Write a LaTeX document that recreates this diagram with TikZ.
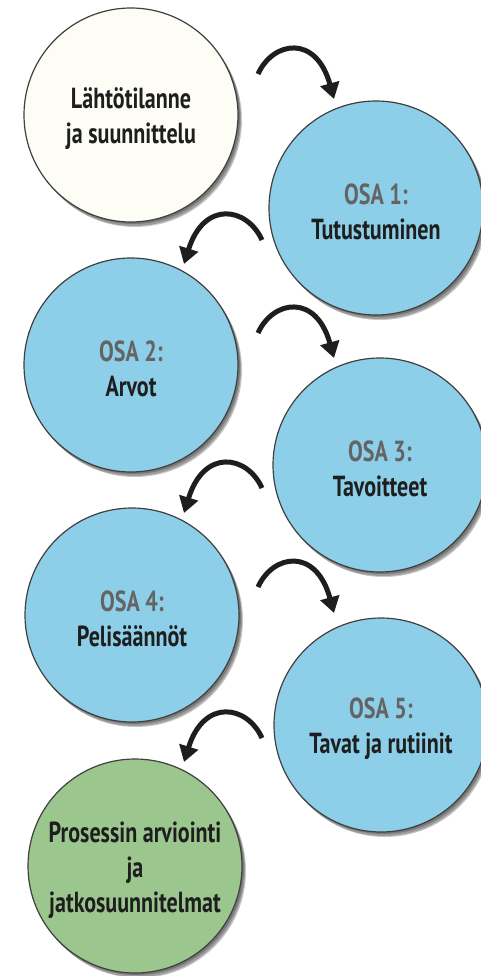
\documentclass[tikz,border=0pt]{standalone}
\usepackage{fontspec}
\setmainfont{PT Sans}[FakeStretch=0.76]
\usetikzlibrary{arrows.meta,calc}
\definecolor{cream}{RGB}{253,253,246}
\definecolor{sky}{RGB}{141,207,232}
\definecolor{leaf}{RGB}{155,198,142}
\definecolor{osagray}{RGB}{100,100,100}
\definecolor{ink}{RGB}{30,30,30}
\newcommand{\shadowdisc}[1]{%
  \fill[black,opacity=0.22] ($(#1)+(2,2)$) circle (107pt);
  \fill[black,opacity=0.22] ($(#1)+(3,4)$) circle (107pt);
  \fill[black,opacity=0.22] ($(#1)+(4,5)$) circle (107pt);}
\begin{document}
\begin{tikzpicture}[x=1pt,y=-1pt,
  phase/.style={circle, draw=black!75, line width=1.2pt, minimum size=214pt, inner sep=0pt},
  phasetext/.style={align=center, font=\bfseries\fontsize{29}{35}\selectfont, text=ink, yshift=-4pt},
  flow/.style={line width=5pt, draw=ink, -{Triangle[length=16pt,width=19pt]}}
]
\useasboundingbox (0,0) rectangle (480,976);
\fill[white] (0,0) rectangle (480,976);

% centres
\coordinate (p0) at (131,115);
\coordinate (p1) at (376,208);
\coordinate (p2) at (131,365);
\coordinate (p3) at (380,465);
\coordinate (p4) at (132,615);
\coordinate (p5) at (381,725);
\coordinate (p6) at (135,866);

\foreach \p in {p0,p1,p2,p3,p4,p5,p6} {\shadowdisc{\p}}

\node[phase, fill=cream, label={[phasetext]center:{Lähtötilanne\\ja suunnittelu}}] (c0) at (p0) {};
\node[phase, fill=sky, label={[phasetext]center:{\textcolor{osagray}{OSA 1:}\\Tutustuminen}}] (c1) at (p1) {};
\node[phase, fill=sky, label={[phasetext]center:{\textcolor{osagray}{OSA 2:}\\Arvot}}] (c2) at (p2) {};
\node[phase, fill=sky, label={[phasetext]center:{\textcolor{osagray}{OSA 3:}\\Tavoitteet}}] (c3) at (p3) {};
\node[phase, fill=sky, label={[phasetext]center:{\textcolor{osagray}{OSA 4:}\\Pelisäännöt}}] (c4) at (p4) {};
\node[phase, fill=sky, label={[phasetext]center:{\textcolor{osagray}{OSA 5:}\\Tavat ja rutiinit}}] (c5) at (p5) {};
\node[phase, fill=leaf, label={[phasetext]center:{Prosessin arviointi\\ja\\jatkosuunnitelmat}}] (c6) at (p6) {};

% arrow end points
\coordinate (r1s) at (258,74);  \coordinate (r1t) at (334,99);
\coordinate (l1s) at (262,240); \coordinate (l1t) at (184,264);
\coordinate (r2s) at (258,333); \coordinate (r2t) at (334,358);
\coordinate (l2s) at (262,488); \coordinate (l2t) at (184,513);
\coordinate (r3s) at (258,587); \coordinate (r3t) at (334,613);
\coordinate (l3s) at (262,738); \coordinate (l3t) at (184,762);

\foreach \s/\t in {r1s/r1t,r2s/r2t,r3s/r3t}
  \draw[flow] (\s) .. controls ($(\s)+(15,-33)$) and ($(\s)+(58,-40)$) .. (\t);
\foreach \s/\t in {l1s/l1t,l2s/l2t,l3s/l3t}
  \draw[flow] (\s) .. controls ($(\s)+(-15,-33)$) and ($(\s)+(-58,-40)$) .. (\t);
\end{tikzpicture}
\end{document}
